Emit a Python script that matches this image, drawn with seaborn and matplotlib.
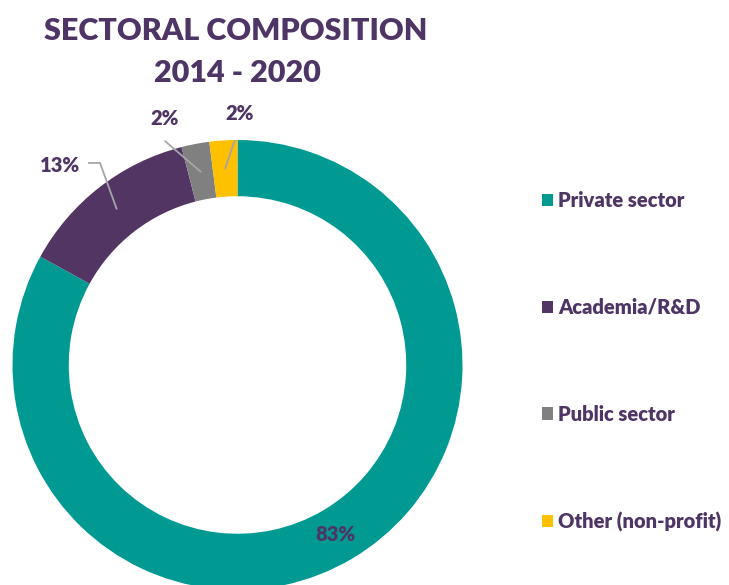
import matplotlib
matplotlib.use("Agg")
import matplotlib.pyplot as plt
import seaborn as sns
import numpy as np

categories = ["Private sector", "Academia/R&D", "Public sector", "Other (non-profit)"]
values = [83, 13, 2, 2]
pct_labels = ["83%", "13%", "2%", "2%"]
colors = ["#009A93", "#533564", "#808080", "#FFC000"]
title_lines = ["SECTORAL COMPOSITION", "2014 - 2020"]

sns.set_theme(style="white")
plt.rcParams['font.family'] = ['Lato', 'DejaVu Sans']
TXT = "#4F3466"

fig = plt.figure(figsize=(7.29, 5.85), dpi=100)
W, H = 729, 585
cx, cy, R = 237.5, 220.0, 225.0
ax = fig.add_axes([(cx - R) / W, (cy - R) / H, 2 * R / W, 2 * R / H])

wedges, _ = ax.pie(values, colors=colors, startangle=90, counterclock=False,
                   radius=1.0, wedgeprops=dict(width=0.25, linewidth=0))
ax.set_xlim(-1, 1)
ax.set_ylim(-1, 1)
ax.set_aspect("equal")
ax.axis("off")

mid_r = 0.875
text_pos = [None, (-0.789, 0.885), (-0.322, 1.095), (0.011, 1.12)]
elbow = [None, True, False, False]
for i, w in enumerate(wedges):
    ang = np.deg2rad((w.theta1 + w.theta2) / 2)
    x, y = mid_r * np.cos(ang), mid_r * np.sin(ang)
    if text_pos[i] is None:
        ax.text(x - 0.01, y, pct_labels[i], ha="center", va="center",
                fontsize=14.5, fontweight="heavy", color=TXT)
    else:
        tx, ty = text_pos[i]
        ax.text(tx, ty, pct_labels[i], ha="center", va="center",
                fontsize=14.5, fontweight="heavy", color=TXT)
        if elbow[i]:
            ax.plot([-0.664, -0.611, x], [0.898, 0.898, y], color="#A6A6A6", lw=1.3,
                    solid_capstyle="butt")
        else:
            sx, sy = tx, ty - 0.10
            if i == 3:
                sx, sy = 0.002, 1.04
            ax.plot([sx, x], [sy, y], color="#A6A6A6", lw=1.3)

fig.text(236 / W, 1 - 31 / H, title_lines[0], ha="center", va="center",
         fontsize=22, fontweight="heavy", color=TXT)
fig.text(237 / W, 1 - 73 / H, title_lines[1], ha="center", va="center",
         fontsize=22, fontweight="heavy", color=TXT)

leg = fig.legend(wedges, categories, loc="upper left",
                 bbox_to_anchor=(534 / W, 1 - 183 / H), frameon=False,
                 fontsize=14.5, labelcolor=TXT, handlelength=0.55, handleheight=0.55,
                 handletextpad=0.25, labelspacing=4.36, borderaxespad=0)
for t in leg.get_texts():
    t.set_fontweight("heavy")

fig.savefig("out.png", dpi=100)
